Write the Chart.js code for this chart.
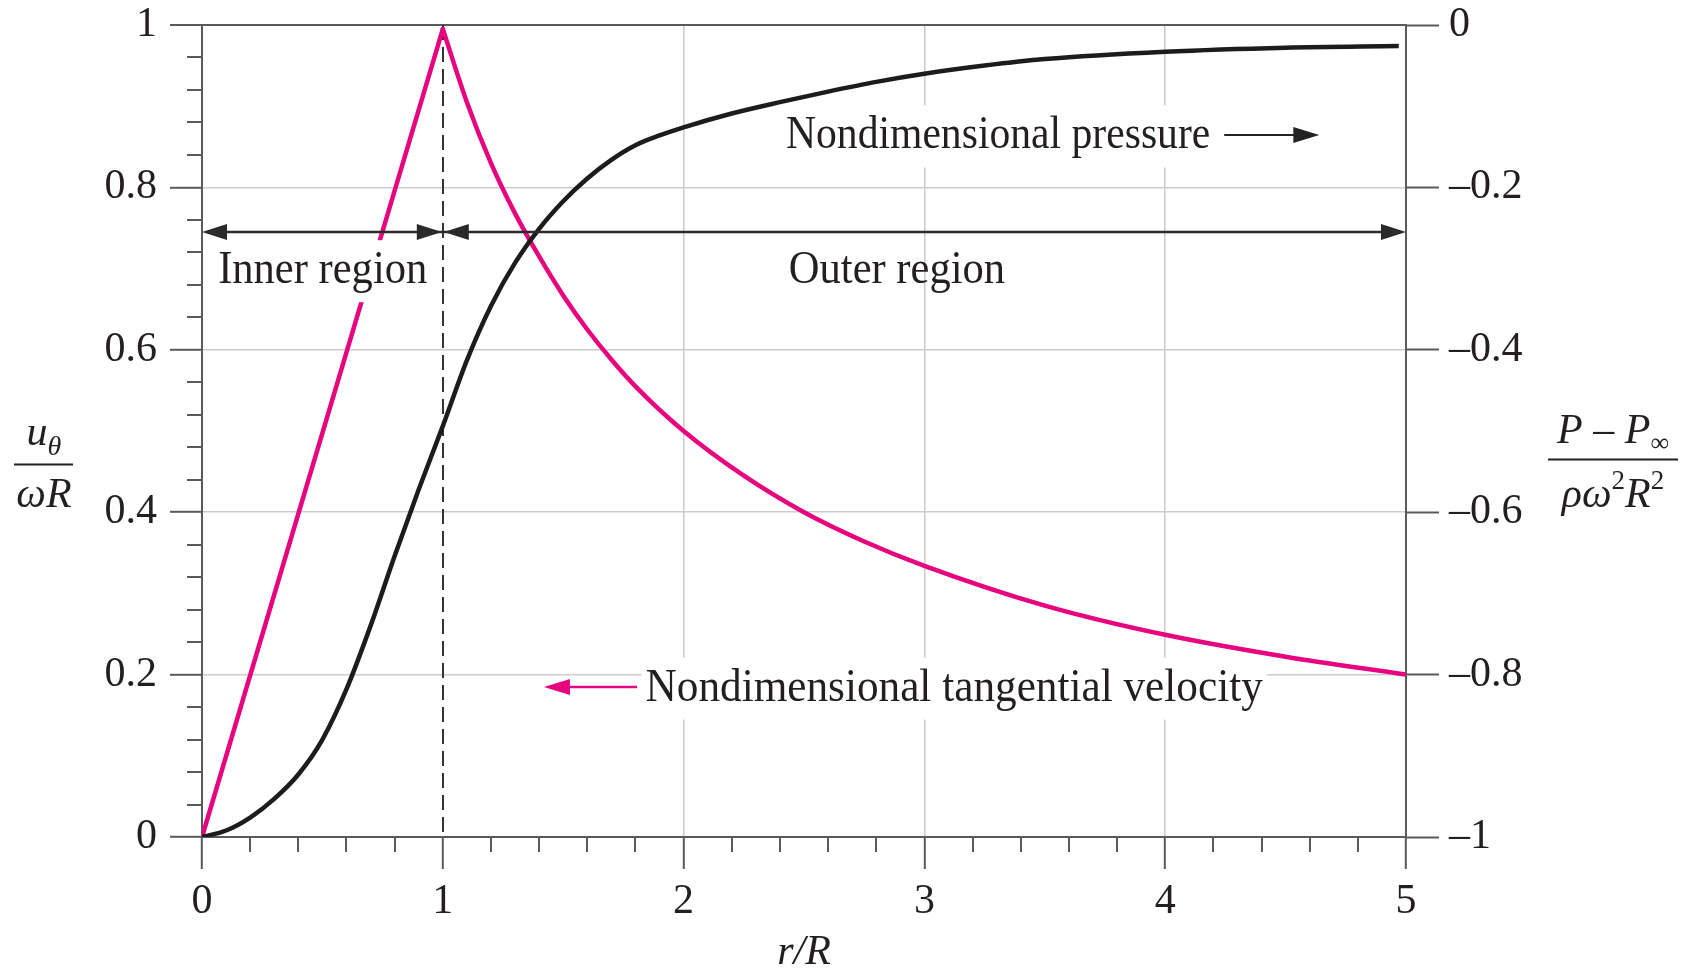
<!DOCTYPE html>
<html>
<head>
<meta charset="utf-8">
<title>Rankine vortex: velocity and pressure</title>
<script src="https://cdn.jsdelivr.net/npm/chart.js@4.4.0/dist/chart.umd.min.js"></script>
<style>
  html, body { margin: 0; background: #fff; }
  #wrap { width: 1694px; height: 975px; }
</style>
</head>
<body>
<div id="wrap"><canvas id="vortex-chart" width="1694" height="975"></canvas></div>
<script>
// ===== Data =====

// r/R positions and nondimensional pressure (right axis)
const rPressure = [0, 0.1, 0.2, 0.3, 0.4, 0.5, 0.6, 0.7, 0.8, 0.9, 1.0,
  1.1, 1.2, 1.3, 1.4, 1.5, 1.6, 1.7, 1.8, 1.9, 2.0,
  2.2, 2.4, 2.6, 2.8, 3.0, 3.25, 3.5, 4.0, 4.5, 4.97];
const pressure = [-1, -0.992, -0.976, -0.953, -0.923, -0.88, -0.818, -0.74, -0.654, -0.572, -0.494,
  -0.413, -0.346, -0.293, -0.251, -0.217, -0.189, -0.166, -0.148, -0.136, -0.126,
  -0.109, -0.095, -0.082, -0.07, -0.06, -0.05, -0.042, -0.033, -0.028, -0.026];

// tangential velocity (left axis), inner region (solid body) and outer region
const rInner = [0, 1];
const velocityInner = [0, 0.995];
const rOuter = [1, 1.1, 1.2, 1.3, 1.4, 1.5, 1.6, 1.7, 1.8, 2.0, 2.25, 2.5, 2.75, 3.0, 3.5, 4.0, 4.5, 5.0];
const velocityOuter = [0.995, 0.905, 0.83, 0.768, 0.715, 0.667, 0.625, 0.588, 0.555, 0.5, 0.445, 0.4, 0.364, 0.334, 0.285, 0.249, 0.222, 0.2];

// tick labels
const xTickLabels = ['0', '1', '2', '3', '4', '5'];
const leftTickLabels = ['0', '0.2', '0.4', '0.6', '0.8', '1'];
const rightTickLabels = ['0', '\u20130.2', '\u20130.4', '\u20130.6', '\u20130.8', '\u20131'];

// ===== Styles =====
const PINK = '#e6057f';
const BLACK = '#1c1c1c';
const FRAME = '#5a5a5a';
const GRID = '#cdcdcd';
const TEXT = '#231f20';
const NONE = 'rgba(0,0,0,0)';
const SERIF = '"Liberation Serif", "Times New Roman", serif';

const toPoints = (xs, ys) => xs.map((x, i) => ({ x: x, y: ys[i] }));
const isMultiple = (v, step) => Math.abs(v / step - Math.round(v / step)) < 1e-6;

// keep Chart.js from pushing the plot area in for the edge tick labels
const fixSize = (w, h) => s => {
  if (w) s.width = w;
  if (h) s.height = h;
  s.paddingTop = 0; s.paddingBottom = 0;
  s.paddingLeft = 0; s.paddingRight = 0;
};

// ===== Drawing helpers =====
function arrowHead(ctx, tipX, tipY, dir, len, half) {
  ctx.beginPath();
  ctx.moveTo(tipX, tipY);
  ctx.lineTo(tipX - dir * len, tipY - half);
  ctx.lineTo(tipX - dir * len, tipY + half);
  ctx.closePath();
  ctx.fill();
}

function label(ctx, text, x, y, squeeze, boxed) {
  ctx.font = '46px ' + SERIF;
  const w = ctx.measureText(text).width * squeeze;
  if (boxed) {
    ctx.fillStyle = '#fff';
    ctx.fillRect(x - 4, y - 43, w + 8, 62);
  }
  ctx.save();
  ctx.translate(x, y);
  ctx.scale(squeeze, 1);
  ctx.fillStyle = TEXT;
  ctx.textBaseline = 'alphabetic';
  ctx.textAlign = 'left';
  ctx.fillText(text, 0, 0);
  ctx.restore();
  return w;
}

function pieces(ctx, parts, cx, baseline) {
  let total = 0;
  parts.forEach(p => { ctx.font = p[1]; p.w = ctx.measureText(p[0]).width; total += p.w; });
  let x = cx - total / 2;
  parts.forEach(p => { ctx.font = p[1]; ctx.fillText(p[0], x, baseline + p[2]); x += p.w; });
  return total;
}

// ===== Annotation plugin =====
const annotations = {
  id: 'annotations',
  beforeDatasetsDraw(chart) {
    const { ctx, chartArea, scales: { x, y } } = chart;
    ctx.save();

    // minor tick marks (majors come from Chart.js)
    ctx.strokeStyle = FRAME;
    ctx.lineWidth = 2;
    x.ticks.forEach(t => {
      if (isMultiple(t.value, 1)) return;
      const px = Math.round(x.getPixelForValue(t.value));
      ctx.beginPath();
      ctx.moveTo(px, chartArea.bottom);
      ctx.lineTo(px, chartArea.bottom + 15);
      ctx.stroke();
    });
    y.ticks.forEach(t => {
      if (isMultiple(t.value, 0.2)) return;
      const py = Math.round(y.getPixelForValue(t.value));
      ctx.beginPath();
      ctx.moveTo(chartArea.left, py);
      ctx.lineTo(chartArea.left - 15, py);
      ctx.stroke();
    });

    // dashed line at r/R = 1
    const xb = Math.round(x.getPixelForValue(1));
    ctx.strokeStyle = '#333';
    ctx.lineWidth = 2;
    ctx.setLineDash([15, 7]);
    ctx.beginPath();
    ctx.moveTo(xb, y.getPixelForValue(1));
    ctx.lineTo(xb, y.getPixelForValue(0));
    ctx.stroke();
    ctx.restore();
  },
  afterDatasetsDraw(chart) {
    const { ctx, scales: { x, y } } = chart;
    ctx.save();

    // inner / outer region arrows
    const ay = Math.round(y.getPixelForValue(0.745));
    const x0 = x.getPixelForValue(0), x1 = x.getPixelForValue(1), x5 = x.getPixelForValue(5);
    ctx.strokeStyle = '#2a2a2a';
    ctx.fillStyle = '#2a2a2a';
    ctx.lineWidth = 2.5;
    ctx.beginPath();
    ctx.moveTo(x0 + 10, ay);
    ctx.lineTo(x5 - 10, ay);
    ctx.stroke();
    arrowHead(ctx, x0, ay, -1, 25, 8);
    arrowHead(ctx, x1 - 1, ay, 1, 25, 8);
    arrowHead(ctx, x1 + 1, ay, -1, 25, 8);
    arrowHead(ctx, x5, ay, 1, 25, 8);

    label(ctx, 'Inner region', x.getPixelForValue(0.067), y.getPixelForValue(0.682), 0.925, true);
    label(ctx, 'Outer region', x.getPixelForValue(2.437), y.getPixelForValue(0.682), 0.925, false);

    // pressure label and arrow to the right axis
    label(ctx, 'Nondimensional pressure', x.getPixelForValue(2.425), y.getPixelForValue(0.848), 0.905, true);
    const py = Math.round(y.getPixelForValue(0.864));
    ctx.strokeStyle = '#222';
    ctx.fillStyle = '#222';
    ctx.lineWidth = 2;
    ctx.beginPath();
    ctx.moveTo(x.getPixelForValue(4.245), py);
    ctx.lineTo(x.getPixelForValue(4.6), py);
    ctx.stroke();
    arrowHead(ctx, x.getPixelForValue(4.64), py, 1, 26, 8);

    // velocity label and arrow to the left axis
    label(ctx, 'Nondimensional tangential velocity', x.getPixelForValue(1.842), y.getPixelForValue(0.168), 0.94, true);
    const vy = Math.round(y.getPixelForValue(0.185));
    ctx.strokeStyle = PINK;
    ctx.fillStyle = PINK;
    ctx.lineWidth = 2.5;
    ctx.beginPath();
    ctx.moveTo(x.getPixelForValue(1.807), vy);
    ctx.lineTo(x.getPixelForValue(1.45), vy);
    ctx.stroke();
    arrowHead(ctx, x.getPixelForValue(1.42), vy, -1, 26, 8);
    ctx.restore();
  },
  afterDraw(chart) {
    const { ctx } = chart;
    const IT = size => 'italic ' + size + 'px ' + SERIF;
    const RM = size => size + 'px ' + SERIF;
    ctx.save();
    ctx.fillStyle = TEXT;
    ctx.strokeStyle = TEXT;
    ctx.textBaseline = 'alphabetic';
    ctx.textAlign = 'left';
    ctx.lineWidth = 2;

    // left axis title: u_theta / (omega R)
    pieces(ctx, [['u', IT(42), 0], ['\u03b8', IT(28), 10]], 44, 445);
    ctx.beginPath();
    ctx.moveTo(14, 464.5);
    ctx.lineTo(73, 464.5);
    ctx.stroke();
    pieces(ctx, [['\u03c9R', IT(42), 0]], 44, 507);

    // right axis title: (P - P_inf) / (rho omega^2 R^2)
    pieces(ctx, [['P', IT(42), 0], [' \u2013 ', RM(42), 0], ['P', IT(42), 0], ['\u221e', RM(26), 8]], 1613, 443);
    ctx.beginPath();
    ctx.moveTo(1548, 459.5);
    ctx.lineTo(1678, 459.5);
    ctx.stroke();
    pieces(ctx, [['\u03c1\u03c9', IT(42), 0], ['2', RM(27), -18], ['R', IT(42), 0], ['2', RM(27), -18]], 1613, 507);
    ctx.restore();
  }
};

// ===== Chart =====
const tickFont = { family: SERIF, size: 42, lineHeight: 1 };

const vortexChart = new Chart(document.getElementById('vortex-chart'), {
  type: 'line',
  data: {
    datasets: [
      {
        label: 'Nondimensional pressure',
        data: toPoints(rPressure, pressure),
        yAxisID: 'yP',
        borderColor: BLACK,
        borderWidth: 4.5,
        cubicInterpolationMode: 'monotone'
      },
      {
        label: 'Tangential velocity, inner region',
        data: toPoints(rInner, velocityInner),
        yAxisID: 'y',
        borderColor: PINK,
        borderWidth: 4.5,
        borderCapStyle: 'round'
      },
      {
        label: 'Tangential velocity, outer region',
        data: toPoints(rOuter, velocityOuter),
        yAxisID: 'y',
        borderColor: PINK,
        borderWidth: 4.5,
        borderCapStyle: 'round',
        cubicInterpolationMode: 'monotone'
      }
    ]
  },
  options: {
    responsive: false,
    animation: false,
    layout: { padding: { top: 25, left: 0, right: 0, bottom: 0 } },
    elements: { point: { radius: 0, hoverRadius: 0 } },
    plugins: {
      legend: { display: false },
      tooltip: { enabled: false }
    },
    scales: {
      x: {
        type: 'linear',
        position: 'bottom',
        min: 0,
        max: 5,
        afterFit: fixSize(0, 138),
        ticks: {
          stepSize: 0.2,
          autoSkip: false,
          maxRotation: 0,
          padding: 12,
          color: TEXT,
          font: tickFont,
          callback: v => isMultiple(v, 1) ? xTickLabels[Math.round(v)] : ''
        },
        grid: {
          color: c => (c.tick && isMultiple(c.tick.value, 1) && c.tick.value > 1.5 && c.tick.value < 4.5) ? GRID : NONE,
          lineWidth: 1.6,
          tickLength: 32,
          tickWidth: 2,
          tickColor: c => (c.tick && isMultiple(c.tick.value, 1)) ? FRAME : NONE
        },
        border: { color: FRAME, width: 2 },
        title: {
          display: true,
          text: 'r/R',
          color: TEXT,
          font: { family: SERIF, size: 42, style: 'italic', lineHeight: 1 },
          padding: { top: 0, bottom: 1 }
        }
      },
      y: {
        type: 'linear',
        position: 'left',
        min: 0,
        max: 1,
        afterFit: fixSize(202, 0),
        ticks: {
          stepSize: 0.04,
          autoSkip: false,
          padding: 13,
          color: TEXT,
          font: tickFont,
          callback: v => isMultiple(v, 0.2) ? leftTickLabels[Math.round(v * 5)] : ''
        },
        grid: {
          color: c => {
            if (!c.tick || !isMultiple(c.tick.value, 0.2) || c.tick.value < 0.1) return NONE;
            return c.tick.value > 0.9 ? FRAME : GRID;
          },
          lineWidth: c => (c.tick && c.tick.value > 0.9) ? 2 : 1.6,
          tickLength: 32,
          tickWidth: 2,
          tickColor: c => (c.tick && isMultiple(c.tick.value, 0.2)) ? FRAME : NONE
        },
        border: { color: FRAME, width: 2 }
      },
      yP: {
        type: 'linear',
        position: 'right',
        min: -1,
        max: 0,
        afterFit: fixSize(288, 0),
        ticks: {
          stepSize: 0.2,
          autoSkip: false,
          padding: 10,
          color: TEXT,
          font: tickFont,
          callback: v => rightTickLabels[Math.round(-v * 5)]
        },
        grid: {
          drawOnChartArea: false,
          color: FRAME,
          tickLength: 33,
          tickWidth: 2,
          tickColor: FRAME
        },
        border: { color: FRAME, width: 2 }
      }
    }
  },
  plugins: [annotations]
});
</script>
</body>
</html>
